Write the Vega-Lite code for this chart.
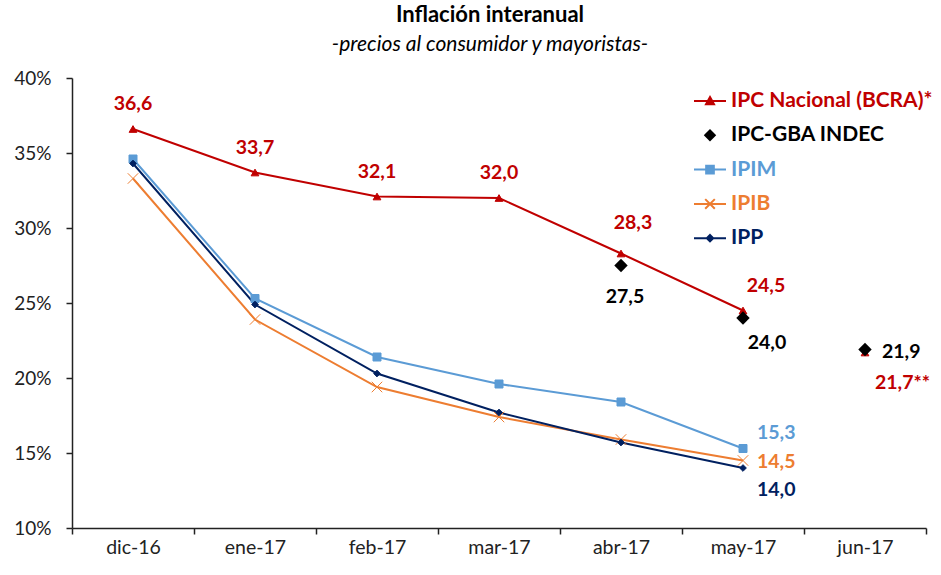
{
  "$schema": "https://vega.github.io/schema/vega-lite/v6.json",
  "width": 854,
  "height": 450,
  "autosize": {"type": "none"},
  "padding": {"left": 72, "top": 78, "right": 15, "bottom": 47},
  "background": "white",
  "title": {
    "text": "Inflación interanual",
    "subtitle": "-precios al consumidor y mayoristas-",
    "anchor": "middle",
    "frame": "group",
    "dx": -9,
    "font": "Lato",
    "fontSize": 22,
    "fontWeight": "bold",
    "color": "#000000",
    "subtitleFont": "Lato",
    "subtitleFontSize": 21,
    "subtitleFontStyle": "italic",
    "subtitleColor": "#000000",
    "subtitlePadding": 7,
    "offset": 13
  },
  "config": {
    "view": {"stroke": null},
    "font": "Lato",
    "axis": {
      "labelFont": "Lato",
      "labelColor": "#222222",
      "domainColor": "#222222",
      "tickColor": "#222222",
      "domainWidth": 1.5,
      "tickWidth": 1.5,
      "tickSize": 6,
      "grid": false,
      "title": null
    }
  },
  "data": {
    "values": [
      {"mes": "dic-16", "serie": "IPC Nacional (BCRA)*", "valor": 36.6},
      {"mes": "ene-17", "serie": "IPC Nacional (BCRA)*", "valor": 33.7},
      {"mes": "feb-17", "serie": "IPC Nacional (BCRA)*", "valor": 32.1},
      {"mes": "mar-17", "serie": "IPC Nacional (BCRA)*", "valor": 32.0},
      {"mes": "abr-17", "serie": "IPC Nacional (BCRA)*", "valor": 28.3},
      {"mes": "may-17", "serie": "IPC Nacional (BCRA)*", "valor": 24.5},
      {"mes": "jun-17", "serie": "IPC Nacional (BCRA)*", "valor": 21.7},
      {"mes": "dic-16", "serie": "IPIM", "valor": 34.6},
      {"mes": "ene-17", "serie": "IPIM", "valor": 25.3},
      {"mes": "feb-17", "serie": "IPIM", "valor": 21.4},
      {"mes": "mar-17", "serie": "IPIM", "valor": 19.6},
      {"mes": "abr-17", "serie": "IPIM", "valor": 18.4},
      {"mes": "may-17", "serie": "IPIM", "valor": 15.3},
      {"mes": "dic-16", "serie": "IPIB", "valor": 33.3},
      {"mes": "ene-17", "serie": "IPIB", "valor": 23.9},
      {"mes": "feb-17", "serie": "IPIB", "valor": 19.4},
      {"mes": "mar-17", "serie": "IPIB", "valor": 17.4},
      {"mes": "abr-17", "serie": "IPIB", "valor": 15.9},
      {"mes": "may-17", "serie": "IPIB", "valor": 14.5},
      {"mes": "dic-16", "serie": "IPP", "valor": 34.3},
      {"mes": "ene-17", "serie": "IPP", "valor": 24.9},
      {"mes": "feb-17", "serie": "IPP", "valor": 20.3},
      {"mes": "mar-17", "serie": "IPP", "valor": 17.7},
      {"mes": "abr-17", "serie": "IPP", "valor": 15.7},
      {"mes": "may-17", "serie": "IPP", "valor": 14.0},
      {"mes": "abr-17", "serie": "IPC-GBA INDEC", "valor": 27.5},
      {"mes": "may-17", "serie": "IPC-GBA INDEC", "valor": 24.0},
      {"mes": "jun-17", "serie": "IPC-GBA INDEC", "valor": 21.9}
    ]
  },
  "transform": [
    {"calculate": "replace(format(datum.valor, '.1f'), '.', ',')", "as": "etiqueta"}
  ],
  "encoding": {
    "x": {
      "field": "mes",
      "type": "ordinal",
      "sort": ["dic-16", "ene-17", "feb-17", "mar-17", "abr-17", "may-17", "jun-17"],
      "scale": {
        "type": "band",
        "domain": ["dic-16", "ene-17", "feb-17", "mar-17", "abr-17", "may-17", "jun-17"],
        "paddingInner": 0,
        "paddingOuter": 0
      },
      "axis": {"tickBand": "extent", "labelAngle": 0, "labelFontSize": 19.5, "labelPadding": 4}
    },
    "y": {
      "field": "valor",
      "type": "quantitative",
      "scale": {"domain": [10, 40], "nice": false, "zero": false},
      "axis": {"values": [10, 15, 20, 25, 30, 35, 40], "labelExpr": "datum.value + '%'", "labelFontSize": 19, "labelPadding": 15}
    }
  },
  "layer": [
    {
      "transform": [{"filter": "datum.serie !== 'IPC-GBA INDEC' && datum.mes !== 'jun-17'"}],
      "mark": {"type": "line", "strokeWidth": 2},
      "encoding": {
        "color": {
          "field": "serie",
          "type": "nominal",
          "scale": {
            "domain": ["IPC Nacional (BCRA)*", "IPC-GBA INDEC", "IPIM", "IPIB", "IPP"],
            "range": ["#C00000", "#000000", "#5B9BD5", "#ED7D31", "#002060"]
          },
          "legend": {
            "orient": "none",
            "legendX": 621,
            "legendY": 6,
            "title": null,
            "padding": 0,
            "symbolSize": 1024,
            "symbolStrokeWidth": 2,
            "labelOffset": 4,
            "rowPadding": 7.3,
            "labelFont": "Lato",
            "labelFontSize": 21,
            "labelFontWeight": "bold",
            "labelLimit": 400,
            "encode": {
              "symbols": {
                "update": {
                  "shape": {"signal": "datum.value === 'IPC Nacional (BCRA)*' ? 'M-1,0L1,0M0,-0.25L0.25,0.2L-0.25,0.2Z' : datum.value === 'IPC-GBA INDEC' ? 'M-0.3,0L0,-0.3L0.3,0L0,0.3Z' : datum.value === 'IPIM' ? 'M-1,0L1,0M-0.24,-0.24L0.24,-0.24L0.24,0.24L-0.24,0.24Z' : datum.value === 'IPIB' ? 'M-1,0L1,0M-0.3,-0.3L0.3,0.3M-0.3,0.3L0.3,-0.3' : 'M-1,0L1,0M0,-0.2L0.2,0L0,0.2L-0.2,0Z'"},
                  "size": {"value": 1024},
                  "fill": {"scale": "color", "field": "value"},
                  "stroke": {"scale": "color", "field": "value"},
                  "strokeWidth": {"value": 2},
                  "opacity": {"value": 1}
                }
              },
              "labels": {
                "update": {
                  "fill": {"scale": "color", "field": "value"}
                }
              }
            }
          }
        }
      }
    },
    {
      "transform": [{"filter": "datum.serie === 'IPIM'"}],
      "mark": {"type": "point", "shape": "square", "size": 64, "filled": true, "color": "#5B9BD5", "stroke": "#5B9BD5", "strokeWidth": 1, "opacity": 1}
    },
    {
      "transform": [{"filter": "datum.serie === 'IPIB'"}],
      "mark": {"type": "point", "shape": "M-1,-1L1,1M-1,1L1,-1", "size": 110, "filled": false, "color": "#ED7D31", "stroke": "#ED7D31", "strokeWidth": 1, "opacity": 1}
    },
    {
      "transform": [{"filter": "datum.serie === 'IPP'"}],
      "mark": {"type": "point", "shape": "diamond", "size": 45, "filled": true, "color": "#002060", "stroke": "#002060", "strokeWidth": 1, "opacity": 1}
    },
    {
      "transform": [{"filter": "datum.serie === 'IPC Nacional (BCRA)*'"}],
      "mark": {"type": "point", "shape": "triangle-up", "size": 60, "filled": true, "color": "#C00000", "stroke": "#C00000", "strokeWidth": 1, "opacity": 1}
    },
    {
      "transform": [{"filter": "datum.serie === 'IPC-GBA INDEC'"}],
      "mark": {"type": "point", "shape": "diamond", "size": 180, "filled": true, "color": "#000000", "opacity": 1}
    },
    {
      "transform": [{"filter": "datum.serie === 'IPC Nacional (BCRA)*' && indexof(['dic-16','ene-17','feb-17','mar-17'], datum.mes) >= 0"}],
      "mark": {"type": "text", "font": "Lato", "fontSize": 19.5, "fontWeight": "bold", "color": "#C00000", "align": "center", "baseline": "middle", "dy": -25},
      "encoding": {"text": {"field": "etiqueta"}}
    },
    {
      "transform": [{"filter": "datum.serie === 'IPC Nacional (BCRA)*' && datum.mes === 'abr-17'"}],
      "mark": {"type": "text", "font": "Lato", "fontSize": 19.5, "fontWeight": "bold", "color": "#C00000", "align": "center", "baseline": "middle", "dx": 12, "dy": -31},
      "encoding": {"text": {"field": "etiqueta"}}
    },
    {
      "transform": [{"filter": "datum.serie === 'IPC Nacional (BCRA)*' && datum.mes === 'may-17'"}],
      "mark": {"type": "text", "font": "Lato", "fontSize": 19.5, "fontWeight": "bold", "color": "#C00000", "align": "center", "baseline": "middle", "dx": 23, "dy": -25},
      "encoding": {"text": {"field": "etiqueta"}}
    },
    {
      "transform": [
        {"filter": "datum.serie === 'IPC Nacional (BCRA)*' && datum.mes === 'jun-17'"},
        {"calculate": "datum.etiqueta + '**'", "as": "etiqueta2"}
      ],
      "mark": {"type": "text", "font": "Lato", "fontSize": 19.5, "fontWeight": "bold", "color": "#C00000", "align": "left", "baseline": "middle", "dx": 10, "dy": 30},
      "encoding": {"text": {"field": "etiqueta2"}}
    },
    {
      "transform": [{"filter": "datum.serie === 'IPC-GBA INDEC' && datum.mes === 'abr-17'"}],
      "mark": {"type": "text", "font": "Lato", "fontSize": 19.5, "fontWeight": "bold", "color": "#000000", "align": "center", "baseline": "middle", "dx": 4, "dy": 31},
      "encoding": {"text": {"field": "etiqueta"}}
    },
    {
      "transform": [{"filter": "datum.serie === 'IPC-GBA INDEC' && datum.mes === 'may-17'"}],
      "mark": {"type": "text", "font": "Lato", "fontSize": 19.5, "fontWeight": "bold", "color": "#000000", "align": "center", "baseline": "middle", "dx": 24, "dy": 25},
      "encoding": {"text": {"field": "etiqueta"}}
    },
    {
      "transform": [{"filter": "datum.serie === 'IPC-GBA INDEC' && datum.mes === 'jun-17'"}],
      "mark": {"type": "text", "font": "Lato", "fontSize": 19.5, "fontWeight": "bold", "color": "#000000", "align": "left", "baseline": "middle", "dx": 17, "dy": 2},
      "encoding": {"text": {"field": "etiqueta"}}
    },
    {
      "transform": [{"filter": "datum.serie === 'IPIM' && datum.mes === 'may-17'"}],
      "mark": {"type": "text", "font": "Lato", "fontSize": 19.5, "fontWeight": "bold", "color": "#5B9BD5", "align": "left", "baseline": "middle", "dx": 14, "dy": -16},
      "encoding": {"text": {"field": "etiqueta"}}
    },
    {
      "transform": [{"filter": "datum.serie === 'IPIB' && datum.mes === 'may-17'"}],
      "mark": {"type": "text", "font": "Lato", "fontSize": 19.5, "fontWeight": "bold", "color": "#ED7D31", "align": "left", "baseline": "middle", "dx": 14, "dy": 1},
      "encoding": {"text": {"field": "etiqueta"}}
    },
    {
      "transform": [{"filter": "datum.serie === 'IPP' && datum.mes === 'may-17'"}],
      "mark": {"type": "text", "font": "Lato", "fontSize": 19.5, "fontWeight": "bold", "color": "#002060", "align": "left", "baseline": "middle", "dx": 14, "dy": 22},
      "encoding": {"text": {"field": "etiqueta"}}
    }
  ]
}
